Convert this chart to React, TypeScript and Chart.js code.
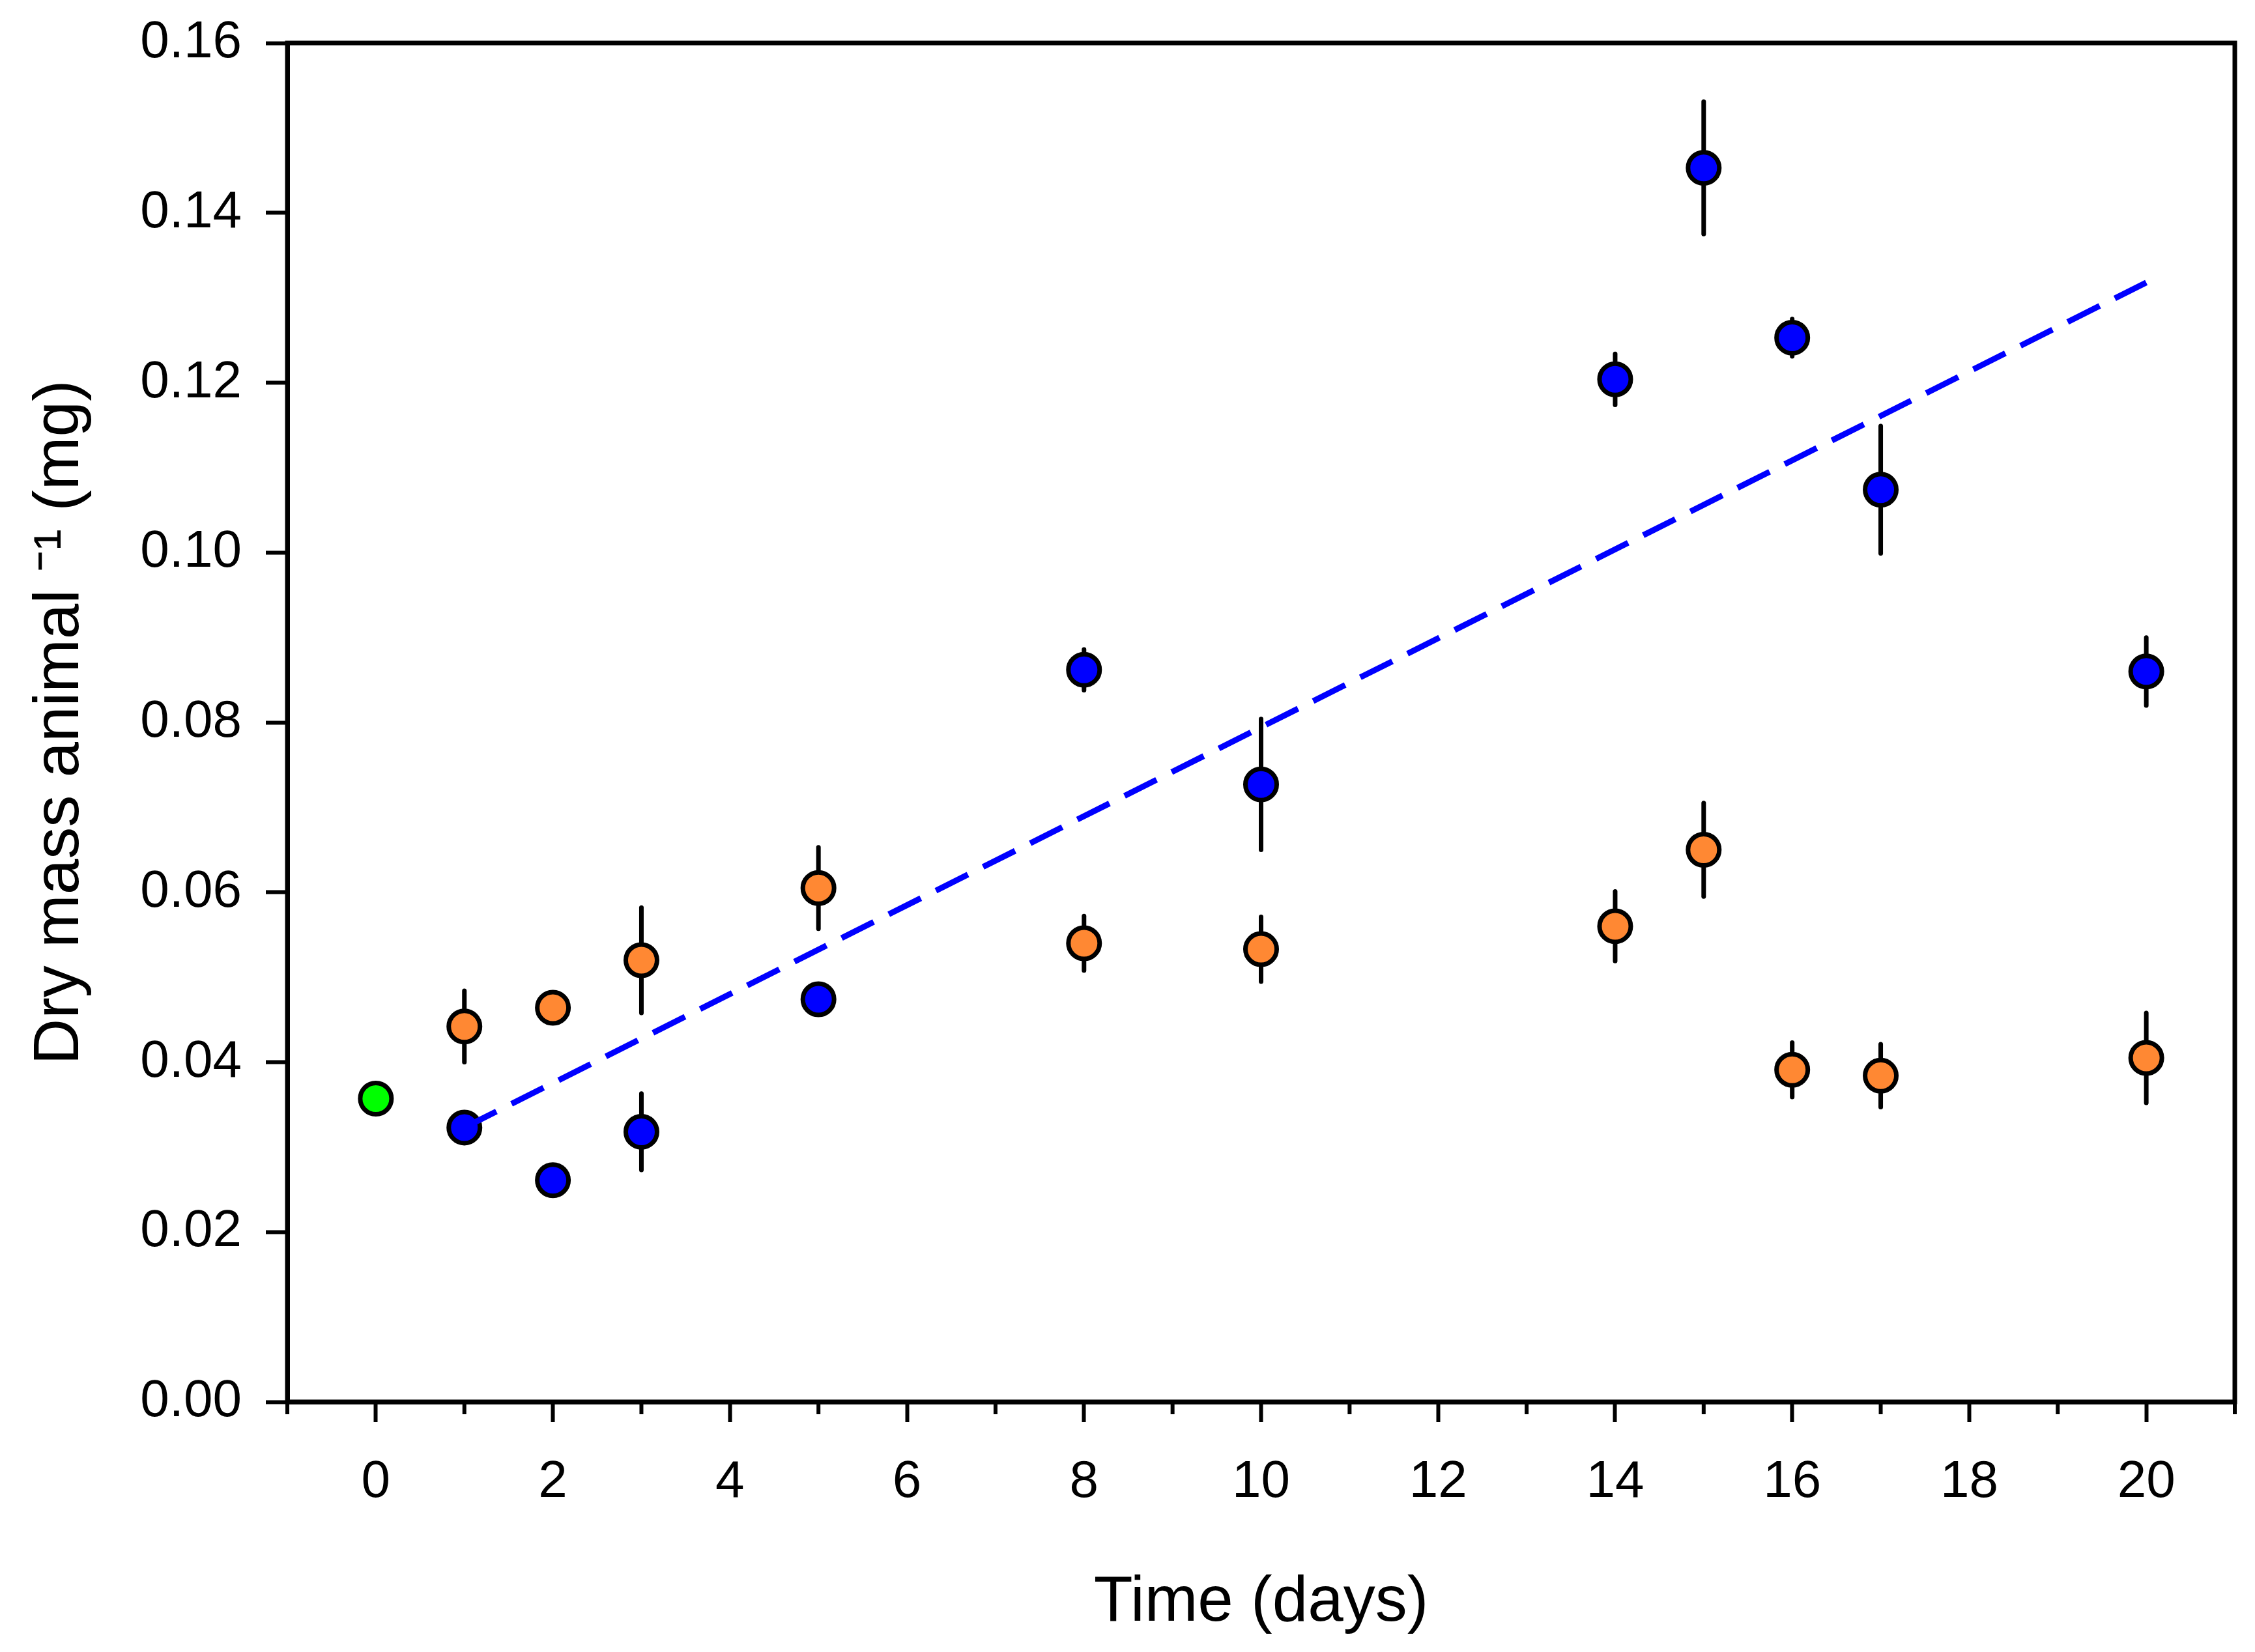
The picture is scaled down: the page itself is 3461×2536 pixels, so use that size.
import React, { useEffect, useRef } from 'react';
import { Chart, registerables, Plugin } from 'chart.js';

Chart.register(...registerables);

// days sampled for each group
const controlDays = [0];
const controlMass = [0.0357];
const controlErr = [0.0017];

const blueDays = [1, 2, 3, 5, 8, 10, 14, 15, 16, 17, 20];
const blueMass = [0.0323, 0.0261, 0.0318, 0.0474, 0.0862, 0.0727, 0.1204, 0.1453, 0.1253, 0.1074, 0.086];
const blueErr = [0.0012, 0.0013, 0.0045, 0.0008, 0.0024, 0.0077, 0.003, 0.0078, 0.0022, 0.0075, 0.004];

const orangeDays = [1, 2, 3, 5, 8, 10, 14, 15, 16, 17, 20];
const orangeMass = [0.0442, 0.0464, 0.052, 0.0605, 0.054, 0.0533, 0.056, 0.065, 0.0391, 0.0384, 0.0405];
const orangeErr = [0.0042, 0.001, 0.0062, 0.0048, 0.0032, 0.0038, 0.0041, 0.0055, 0.0032, 0.0037, 0.0053];

// linear fit through the blue group
const fitDays = [1, 20];
const fitMass = [0.0323, 0.1318];

const xMajorTicks = [0, 2, 4, 6, 8, 10, 12, 14, 16, 18, 20];
const xMinorTicks = [-1, 1, 3, 5, 7, 9, 11, 13, 15, 17, 19, 21];
const yTicks = [0, 0.02, 0.04, 0.06, 0.08, 0.1, 0.12, 0.14, 0.16];

const FONT = "'Liberation Sans', Arial, sans-serif";

const errorBarPlugin: Plugin = {
  id: 'errorBars',
  beforeDatasetsDraw(chart) {
    const { ctx } = chart;
    const xs = chart.scales.x;
    const ys = chart.scales.y;
    ctx.save();
    ctx.strokeStyle = '#000';
    ctx.lineWidth = 7;
    ctx.lineCap = 'round';
    chart.data.datasets.forEach((ds: any) => {
      if (!ds.errors) return;
      ds.data.forEach((p: any, i: number) => {
        const px = xs.getPixelForValue(p.x);
        ctx.beginPath();
        ctx.moveTo(px, ys.getPixelForValue(p.y - ds.errors[i]));
        ctx.lineTo(px, ys.getPixelForValue(p.y + ds.errors[i]));
        ctx.stroke();
      });
    });
    ctx.restore();
  },
};

const framePlugin: Plugin = {
  id: 'frame',
  afterDraw(chart) {
    const { ctx, chartArea } = chart;
    const xs = chart.scales.x;
    ctx.save();
    ctx.strokeStyle = '#000';
    ctx.lineWidth = 7;
    ctx.strokeRect(chartArea.left, chartArea.top, chartArea.right - chartArea.left, chartArea.bottom - chartArea.top);
    // short minor ticks on the time axis
    ctx.lineWidth = 6;
    xMinorTicks.forEach((v) => {
      const px = xs.getPixelForValue(v);
      ctx.beginPath();
      ctx.moveTo(px, chartArea.bottom);
      ctx.lineTo(px, chartArea.bottom + 19);
      ctx.stroke();
    });
    ctx.restore();
  },
};

const toPoints = (xs: number[], ys: number[]) => xs.map((x, i) => ({ x, y: ys[i] }));

const App: React.FC = () => {
  const canvasRef = useRef<HTMLCanvasElement | null>(null);

  useEffect(() => {
    if (!canvasRef.current) return;
    const ctx = canvasRef.current.getContext('2d');
    if (!ctx) return;

    const marker = {
      type: 'scatter' as const,
      pointRadius: 24,
      pointBorderWidth: 7,
      pointBorderColor: '#000',
      showLine: false,
    };

    const chart = new Chart(ctx, {
      type: 'scatter',
      data: {
        datasets: [
          {
            type: 'line',
            label: 'fit',
            data: toPoints(fitDays, fitMass),
            borderColor: '#0000FF',
            borderWidth: 9,
            borderDash: [55, 26],
            pointRadius: 0,
            fill: false,
            order: 0,
          },
          {
            ...marker,
            label: 'day 0',
            data: toPoints(controlDays, controlMass),
            pointBackgroundColor: '#00FF00',
            errors: controlErr,
            order: 1,
          } as any,
          {
            ...marker,
            label: 'blue',
            data: toPoints(blueDays, blueMass),
            pointBackgroundColor: '#0000FF',
            errors: blueErr,
            order: 2,
          } as any,
          {
            ...marker,
            label: 'orange',
            data: toPoints(orangeDays, orangeMass),
            pointBackgroundColor: '#FF8833',
            errors: orangeErr,
            order: 3,
          } as any,
        ],
      },
      options: {
        animation: false,
        responsive: true,
        maintainAspectRatio: false,
        layout: { padding: { top: 66, right: 27, left: 0, bottom: 0 } },
        plugins: {
          legend: { display: false },
          tooltip: { enabled: false },
        },
        scales: {
          x: {
            type: 'linear',
            min: -1,
            max: 21,
            afterBuildTicks: (scale) => {
              scale.ticks = xMajorTicks.map((value) => ({ value }));
            },
            afterFit: (scale: any) => {
              scale.height = 384;
              scale.paddingLeft = 0;
              scale.paddingRight = 0;
            },
            grid: { drawOnChartArea: false, tickLength: 31, tickWidth: 6, tickColor: '#000' },
            border: { display: true, color: '#000', width: 7 },
            ticks: {
              color: '#000',
              font: { family: FONT, size: 80 },
              padding: 45,
              maxRotation: 0,
              callback: (v) => String(v),
            },
            title: {
              display: true,
              text: 'Time (days)',
              color: '#000',
              font: { family: FONT, size: 98 },
              padding: { top: 0, bottom: 16 },
            },
          },
          y: {
            type: 'linear',
            min: 0,
            max: 0.16,
            afterBuildTicks: (scale) => {
              scale.ticks = yTicks.map((value) => ({ value }));
            },
            afterFit: (scale: any) => {
              scale.width = 441;
              scale.paddingTop = 0;
              scale.paddingBottom = 0;
            },
            grid: { drawOnChartArea: false, tickLength: 33, tickWidth: 6, tickColor: '#000' },
            border: { display: true, color: '#000', width: 7 },
            ticks: {
              color: '#000',
              font: { family: FONT, size: 80 },
              padding: 37,
              callback: (v) => Number(v).toFixed(2),
            },
            title: {
              display: true,
              text: 'Dry mass animal \u207B\u00B9 (mg)',
              color: '#000',
              font: { family: FONT, size: 98 },
              padding: { top: 34, bottom: 0 },
            },
          },
        },
      },
      plugins: [errorBarPlugin, framePlugin],
    });

    return () => chart.destroy();
  }, []);

  return (
    <div style={{ position: 'fixed', left: 0, top: 0, width: 3461, height: 2536, background: '#fff' }}>
      <canvas ref={canvasRef} />
    </div>
  );
};

export default App;
